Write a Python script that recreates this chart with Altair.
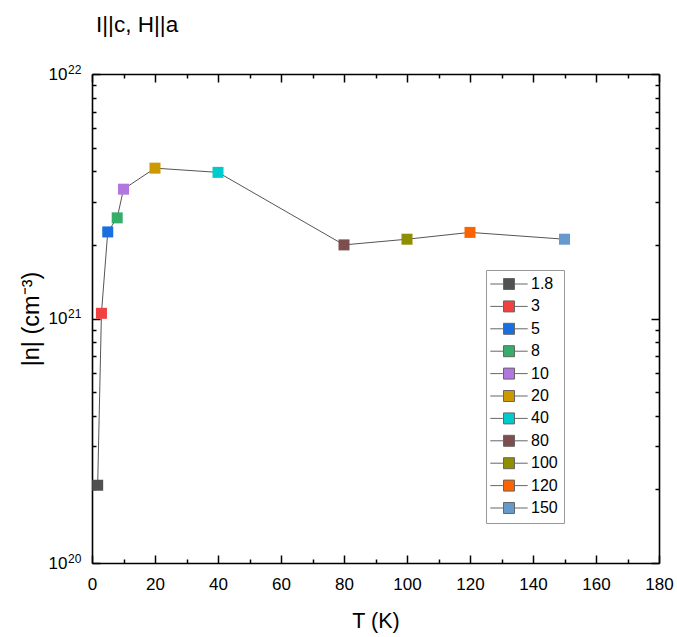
import altair as alt
import pandas as pd

# ---- data ----
temps = [1.8, 3, 5, 8, 10, 20, 40, 80, 100, 120, 150]
labels = ["1.8", "3", "5", "8", "10", "20", "40", "80", "100", "120", "150"]
n_vals = [2.08e20, 1.05e21, 2.26e21, 2.58e21, 3.38e21, 4.12e21, 3.96e21,
          2.00e21, 2.11e21, 2.25e21, 2.11e21]
colors = ["#515151", "#F14040", "#1A6FDF", "#37AD6B", "#B177DE", "#CC9900",
          "#00CBCC", "#7D4E4E", "#8E8E00", "#FB6501", "#6699CC"]
x_ticks = list(range(0, 181, 10))
y_ticks = [m * 1e20 for m in range(1, 10)] + [m * 1e21 for m in range(1, 10)] + [1e22]
y_decades = [1e20, 1e21, 1e22]

df = pd.DataFrame({"T": temps, "n": n_vals, "label": labels})

FONT = "Liberation Sans"
x_scale = alt.Scale(domain=[0, 180], nice=False, zero=False)
y_scale = alt.Scale(type="log", domain=[1e20, 1e22], nice=False)

x_tick_expr = "datum.value % 20 === 0 ? -8 : -4"
y_tick_expr = "(datum.value == 1e20 || datum.value == 1e21 || datum.value == 1e22) ? -8 : -4"
x_label_expr = "datum.value % 20 === 0 ? datum.label : ''"
y_label_expr = "(datum.value == 1e20 || datum.value == 1e21 || datum.value == 1e22) ? '10' : ''"
y_exp_expr = "datum.value == 1e20 ? '20' : datum.value == 1e21 ? '21' : '22'"

common = dict(grid=False, domainColor="black", domainWidth=1.6, tickColor="black",
              tickWidth=1.5, labelFlush=False, labelOverlap=False, labelFont=FONT,
              labelFontSize=17, labelColor="black", titleFont=FONT,
              titleFontWeight="normal", titleColor="black")

x_bottom = alt.Axis(orient="bottom", values=x_ticks, tickSize=alt.ExprRef(expr=x_tick_expr),
                    labelExpr=x_label_expr, labelPadding=21, title="T (K)",
                    titlePadding=14, titleFontSize=21.5, **common)
x_top = alt.Axis(orient="top", values=x_ticks, tickSize=alt.ExprRef(expr=x_tick_expr),
                 labels=False, title=None, **common)
y_left = alt.Axis(orient="left", values=y_ticks, tickSize=alt.ExprRef(expr=y_tick_expr),
                  labelExpr=y_label_expr, labelPadding=33, title="|n| (cm\u207b\u00b3)",
                  titlePadding=5, titleFontSize=23.5, **common)
y_right = alt.Axis(orient="right", values=y_ticks, tickSize=alt.ExprRef(expr=y_tick_expr),
                   labels=False, title=None, **common)
y_exp = alt.Axis(orient="left", values=y_decades, tickSize=0, tickOpacity=0, domain=False,
                 grid=False, labelExpr=y_exp_expr, labelAlign="left", labelBaseline="middle",
                 labelPadding=24.5, labelOffset=-5, labelFont=FONT, labelFontSize=12,
                 labelColor="black", labelFlush=False, labelOverlap=False, title=None)

line = alt.Chart(df).mark_line(color="#555555", strokeWidth=1).encode(
    x=alt.X("T:Q", scale=x_scale, axis=x_bottom),
    y=alt.Y("n:Q", scale=y_scale, axis=y_left),
    order=alt.Order("T:Q"),
)

exp_layer = alt.Chart(df).mark_line(opacity=0).encode(
    x=alt.X("T:Q", scale=x_scale, axis=None),
    y=alt.Y("n:Q", scale=y_scale, axis=y_exp),
)

legend_path = "M-3.4,0L-1,0M1,0L3.4,0M-1,-1L1,-1L1,1L-1,1Z"

points = alt.Chart(df).mark_square(size=121, opacity=1, strokeWidth=0).encode(
    x=alt.X("T:Q", scale=x_scale, axis=x_top),
    y=alt.Y("n:Q", scale=y_scale, axis=y_right),
    color=alt.Color("label:N", scale=alt.Scale(domain=labels, range=colors),
                    legend=alt.Legend(orient="none", legendX=394, legendY=196, title=None,
                                      symbolType=legend_path, symbolSize=121,
                                      symbolStrokeColor="#666666", symbolStrokeWidth=1,
                                      symbolOpacity=1,
                                      labelFont=FONT, labelFontSize=16, labelColor="black",
                                      rowPadding=6.4, padding=6, strokeColor="#999999",
                                      symbolOffset=9, labelOffset=14)),
)

chart = alt.layer(line, exp_layer, points).resolve_axis(x="independent", y="independent").properties(
    width=567, height=489,
    autosize=alt.AutoSizeParams(type="none"),
    padding={"left": 92, "top": 74, "right": 18, "bottom": 74},
    title=alt.TitleParams("I||c, H||a", anchor="start", frame="group", dx=4, offset=27,
                          fontSize=22.5, font=FONT, fontWeight="normal", color="black"),
).configure_view(stroke=None)

chart.save("out.html", embed_options={"renderer": "svg", "actions": False})
